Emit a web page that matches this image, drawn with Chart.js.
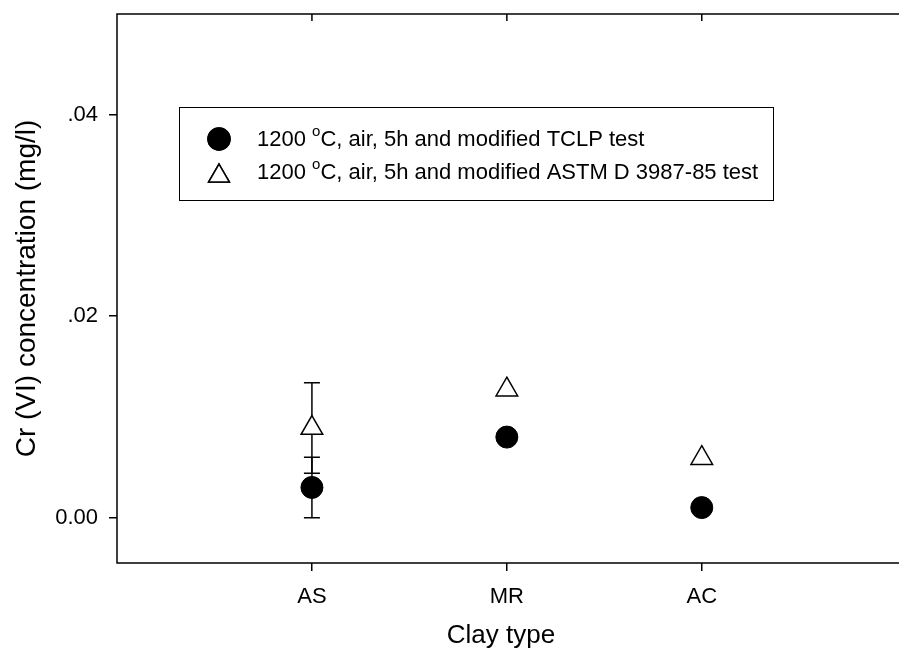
<!DOCTYPE html>
<html>
<head>
<meta charset="utf-8">
<script src="https://cdn.jsdelivr.net/npm/chart.js@4"></script>
<style>
  html, body { margin: 0; padding: 0; background: #fff; overflow: hidden; }
</style>
</head>
<body>
<canvas id="grafico" width="899" height="660"></canvas>
<script>
// categorias e valores
const categorias = ['AS', 'MR', 'AC'];
const posicoes = [1, 2, 3];
const tclp = [0.0030, 0.0080, 0.0010];
const tclpErro = [0.0030, 0, 0];
const astm = [0.0089, 0.0127, 0.0059];
const astmErro = [0.0045, 0, 0];
const rotulos = ['1200 °C, air, 5h and modified TCLP test', '1200 °C, air, 5h and modified ASTM D 3987-85 test'];
const yTicks = [0, 0.02, 0.04];
const yTickLabels = ['0.00', '.02', '.04'];

const fonte = '"Liberation Sans", Arial, sans-serif';

function pontos(vals) {
  return posicoes.map((x, i) => ({ x: x, y: vals[i] }));
}

// barras de erro
const errorBars = {
  id: 'errorBars',
  beforeDatasetsDraw(chart) {
    const ctx = chart.ctx;
    const xs = chart.scales.x, ys = chart.scales.y;
    ctx.save();
    ctx.strokeStyle = '#000';
    ctx.lineWidth = 1.5;
    chart.data.datasets.forEach(ds => {
      ds.erros.forEach((e, i) => {
        if (!e) return;
        const px = xs.getPixelForValue(posicoes[i]);
        const top = ys.getPixelForValue(ds.valores[i] + e);
        const bot = ys.getPixelForValue(ds.valores[i] - e);
        ctx.beginPath();
        ctx.moveTo(px, top); ctx.lineTo(px, bot);
        ctx.moveTo(px - 8, top); ctx.lineTo(px + 8, top);
        ctx.moveTo(px - 8, bot); ctx.lineTo(px + 8, bot);
        ctx.stroke();
      });
    });
    ctx.restore();
  }
};

// moldura (sem o lado direito, que fica fora da imagem), ticks de cima e legenda
const moldura = {
  id: 'moldura',
  afterDraw(chart) {
    const ctx = chart.ctx;
    const a = chart.chartArea;
    const xs = chart.scales.x;
    ctx.save();
    ctx.strokeStyle = '#000';
    ctx.lineWidth = 1.5;
    ctx.beginPath();
    ctx.moveTo(chart.width, a.top);
    ctx.lineTo(a.left, a.top);
    ctx.lineTo(a.left, a.bottom);
    ctx.lineTo(chart.width, a.bottom);
    ctx.stroke();
    posicoes.forEach(p => {
      const px = xs.getPixelForValue(p);
      ctx.beginPath();
      ctx.moveTo(px, a.top); ctx.lineTo(px, a.top + 7);
      ctx.stroke();
    });

    // legenda
    const lx = 179, ly = 107, lw = 594, lh = 93;
    ctx.lineWidth = 1;
    ctx.strokeRect(lx + 0.5, ly + 0.5, lw, lh);
    chart.data.datasets.forEach((ds, i) => {
      const cy = 140 + i * 33;
      ctx.lineWidth = 1.5;
      Chart.helpers.drawPoint(ctx, {
        pointStyle: ds.pointStyle, radius: i === 0 ? 11 : 12, rotation: 0, borderWidth: 1.5
      }, 219, i === 0 ? cy - 1 : cy + 3);
      ctx.fillStyle = ds.backgroundColor;
      ctx.strokeStyle = '#000';
      ctx.fill();
      ctx.stroke();

      const partes = ds.label.split('°');
      ctx.fillStyle = '#000';
      ctx.textBaseline = 'middle';
      ctx.font = '22px ' + fonte;
      let x = 257;
      ctx.fillText(partes[0], x, cy);
      x += ctx.measureText(partes[0]).width;
      ctx.font = '15px ' + fonte;
      ctx.fillText('o', x, cy - 8);
      x += ctx.measureText('o').width;
      ctx.font = '22px ' + fonte;
      ctx.fillText(partes[1], x, cy);
    });
    ctx.restore();
  }
};

new Chart(document.getElementById('grafico'), {
  type: 'scatter',
  data: {
    datasets: [{
      label: rotulos[0],
      data: pontos(tclp),
      valores: tclp,
      erros: tclpErro,
      pointStyle: 'circle',
      pointRadius: 11,
      pointHoverRadius: 11,
      backgroundColor: '#000',
      borderColor: '#000',
      borderWidth: 1
    }, {
      label: rotulos[1],
      data: pontos(astm),
      valores: astm,
      erros: astmErro,
      pointStyle: 'triangle',
      pointRadius: 12.5,
      pointHoverRadius: 12.5,
      backgroundColor: '#fff',
      borderColor: '#000',
      borderWidth: 1.5
    }]
  },
  options: {
    responsive: false,
    animation: false,
    events: [],
    layout: { padding: { left: 0, top: 11, right: 0, bottom: 0 } },
    plugins: { legend: { display: false }, tooltip: { enabled: false } },
    scales: {
      x: {
        type: 'linear',
        min: 0,
        max: 3.94,
        afterBuildTicks: s => { s.ticks = posicoes.map(v => ({ value: v })); },
        afterFit: s => { s.height = 97; s.paddingLeft = 0; s.paddingRight = 0; },
        grid: { drawOnChartArea: false, drawTicks: true, tickLength: 8, color: '#000', lineWidth: 1.5 },
        border: { display: false },
        ticks: {
          padding: 13,
          color: '#000',
          font: { family: fonte, size: 22 },
          maxRotation: 0,
          callback: v => categorias[posicoes.indexOf(v)] || ''
        },
        title: {
          display: true,
          text: 'Clay type',
          color: '#000',
          font: { family: fonte, size: 26 },
          padding: { top: 0, bottom: 9 }
        }
      },
      y: {
        min: -0.0045,
        max: 0.0500,
        afterBuildTicks: s => { s.ticks = yTicks.map(v => ({ value: v })); },
        afterFit: s => { s.width = 117; s.paddingTop = 0; s.paddingBottom = 0; },
        grid: { drawOnChartArea: false, drawTicks: true, tickLength: 8, color: '#000', lineWidth: 1.5 },
        border: { display: false },
        ticks: {
          padding: 11,
          color: '#000',
          font: { family: fonte, size: 22 },
          callback: v => yTickLabels[yTicks.indexOf(v)] ?? ''
        },
        title: {
          display: true,
          text: 'Cr (VI) concentration (mg/l)',
          color: '#000',
          font: { family: fonte, size: 28 },
          padding: { top: 10, bottom: 0 }
        }
      }
    }
  },
  plugins: [errorBars, moldura]
});
</script>
</body>
</html>
